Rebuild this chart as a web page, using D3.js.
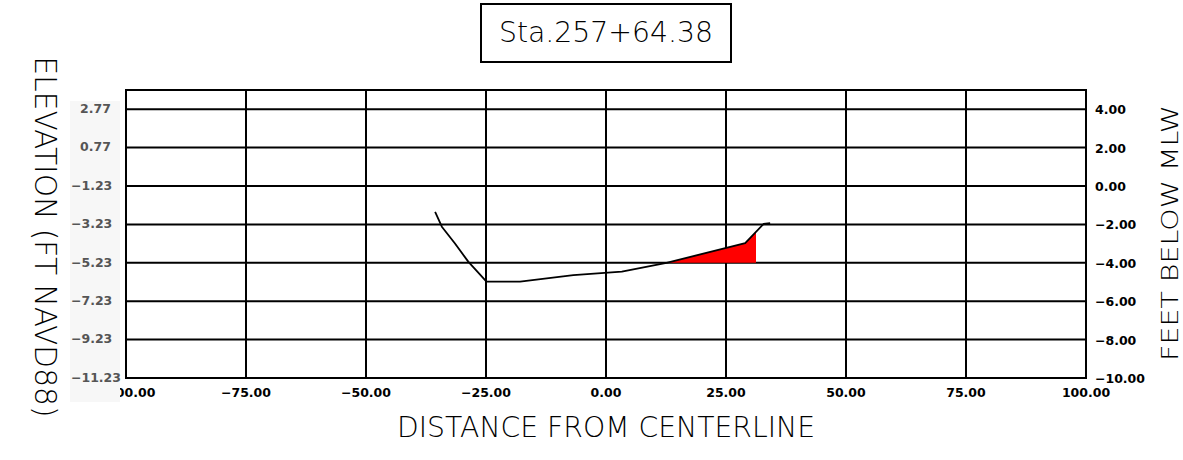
<!DOCTYPE html>
<html>
  <head>
    <meta charset="utf-8">
    <script type="text/javascript" src="https://cdn.jsdelivr.net/npm/d3@7"></script>
    <style type="text/css">

html, body {
  margin: 0;
  background: #fff;
}

svg {
  display: block;
}

.cad {
  font-family: "DejaVu Sans", sans-serif;
  font-weight: 200;
  fill: #000;
}

.grid line {
  stroke: #000;
  stroke-width: 2px;
}

    </style>
  </head>
  <body>
    <div id="chart"></div>
    <script type="text/javascript">

var station = "Sta.257+64.38";

// distance from centerline (ft) and depth (ft below MLW, right axis)
var offsets = [-35.6, -34.2, -31.5, -28.7, -24.9, -17.9, -6.8, 3.3, 12.6, 29.0, 32.8, 34.2];
var depths  = [-1.35, -2.12, -2.98, -3.94, -4.98, -4.98, -4.64, -4.46, -4.00, -2.98, -1.98, -1.94];

// dredge template: fill between profile and this depth, from cutStart to cutEnd
var templateDepth = -4.0;
var cutStart = 12.6;
var cutEnd = 31.25;

var xTicks = [-100, -75, -50, -25, 0, 25, 50, 75, 100];
var mlwTicks = [4, 2, 0, -2, -4, -6, -8, -10];
var elevTicks = [2.77, 0.77, -1.23, -3.23, -5.23, -7.23, -9.23, -11.23];

var width = 1183, height = 460;
var plotLeft = 126, plotRight = 1086, plotTop = 90, plotBottom = 378;

var svg = d3.select("#chart").append("svg")
    .attr("width", width)
    .attr("height", height);

var x = d3.scaleLinear().domain([-100, 100]).range([plotLeft, plotRight]);
var y = d3.scaleLinear().domain([-10, 5]).range([plotBottom, plotTop]);
var yElev = d3.scaleLinear().domain([-11.23, 3.77]).range([plotBottom, plotTop]);

var profile = offsets.map(function(d, i) { return {x: d, y: depths[i]}; });

// grid lines
svg.append("g")
    .attr("class", "grid")
    .selectAll("line")
    .data(xTicks)
  .enter().append("line")
    .attr("x1", function(d) { return x(d); })
    .attr("x2", function(d) { return x(d); })
    .attr("y1", plotTop)
    .attr("y2", plotBottom);

svg.append("g")
    .attr("class", "grid")
    .selectAll("line")
    .data(mlwTicks.concat([5]))
  .enter().append("line")
    .attr("x1", plotLeft - 1)
    .attr("x2", plotRight + 1)
    .attr("y1", function(d) { return y(d); })
    .attr("y2", function(d) { return y(d); });

// red cut area
svg.append("clipPath")
    .attr("id", "cut")
  .append("rect")
    .attr("x", x(cutStart))
    .attr("y", plotTop)
    .attr("width", x(cutEnd) - x(cutStart))
    .attr("height", y(templateDepth) - plotTop + 1);

var area = d3.area()
    .x(function(d) { return x(d.x); })
    .y0(y(templateDepth))
    .y1(function(d) { return y(d.y); });

svg.append("path")
    .datum(profile)
    .attr("clip-path", "url(#cut)")
    .attr("fill", "#ff0000")
    .attr("d", area);

var line = d3.line()
    .x(function(d) { return x(d.x); })
    .y(function(d) { return y(d.y); });

svg.append("path")
    .datum(profile)
    .attr("fill", "none")
    .attr("stroke", "#000")
    .attr("stroke-width", 1.8)
    .attr("stroke-linejoin", "round")
    .attr("d", line);

// bottom labels
var fmt = d3.format(".2f");

svg.append("g")
    .selectAll("text")
    .data(xTicks)
  .enter().append("text")
    .attr("x", function(d) { return x(d); })
    .attr("y", 393)
    .attr("dy", "0.35em")
    .attr("text-anchor", "middle")
    .style("font", "bold 12.5px 'DejaVu Sans', sans-serif")
    .text(fmt);

// left gray panel sits over the -100 label
svg.append("rect")
    .attr("x", 70)
    .attr("y", 101)
    .attr("width", 50)
    .attr("height", 301)
    .attr("fill", "#f7f7f7");

svg.append("g")
    .selectAll("text")
    .data(elevTicks)
  .enter().append("text")
    .attr("x", function(d) { return d < 0 ? 71 : 80; })
    .attr("y", function(d) { return yElev(d); })
    .attr("dy", "0.3em")
    .style("font", "bold 12.5px 'DejaVu Sans', sans-serif")
    .style("fill", "#555")
    .text(fmt);

svg.append("g")
    .selectAll("text")
    .data(mlwTicks)
  .enter().append("text")
    .attr("x", 1095)
    .attr("y", function(d) { return y(d); })
    .attr("dy", "0.4em")
    .style("font", "bold 12.5px 'DejaVu Sans', sans-serif")
    .text(fmt);

// frame
svg.append("path")
    .attr("fill", "none")
    .attr("stroke", "#000")
    .attr("stroke-width", 2)
    .attr("d", "M" + plotLeft + "," + plotTop + "V" + plotBottom + "H" + plotRight + "V" + plotTop);

// title box
svg.append("rect")
    .attr("x", 481)
    .attr("y", 4)
    .attr("width", 250)
    .attr("height", 58)
    .attr("fill", "none")
    .attr("stroke", "#000")
    .attr("stroke-width", 2);

svg.append("text")
    .attr("class", "cad")
    .attr("x", 606)
    .attr("y", 42)
    .attr("text-anchor", "middle")
    .attr("textLength", 214)
    .attr("lengthAdjust", "spacingAndGlyphs")
    .style("font-size", "28px")
    .text(station);

// axis titles
svg.append("text")
    .attr("class", "cad")
    .attr("x", 606)
    .attr("y", 437)
    .attr("text-anchor", "middle")
    .attr("textLength", 418)
    .attr("lengthAdjust", "spacingAndGlyphs")
    .style("font-size", "27.5px")
    .text("DISTANCE FROM CENTERLINE");

svg.append("text")
    .attr("class", "cad")
    .attr("transform", "translate(35,237) rotate(90)")
    .attr("text-anchor", "middle")
    .attr("textLength", 361)
    .attr("lengthAdjust", "spacingAndGlyphs")
    .style("font-size", "30px")
    .text("ELEVATION (FT NAVD88)");

svg.append("text")
    .attr("class", "cad")
    .attr("transform", "translate(1178,233) rotate(-90)")
    .attr("text-anchor", "middle")
    .attr("textLength", 256)
    .attr("lengthAdjust", "spacingAndGlyphs")
    .style("font-size", "23px")
    .text("FEET BELOW MLW");

    </script>
  </body>
</html>
